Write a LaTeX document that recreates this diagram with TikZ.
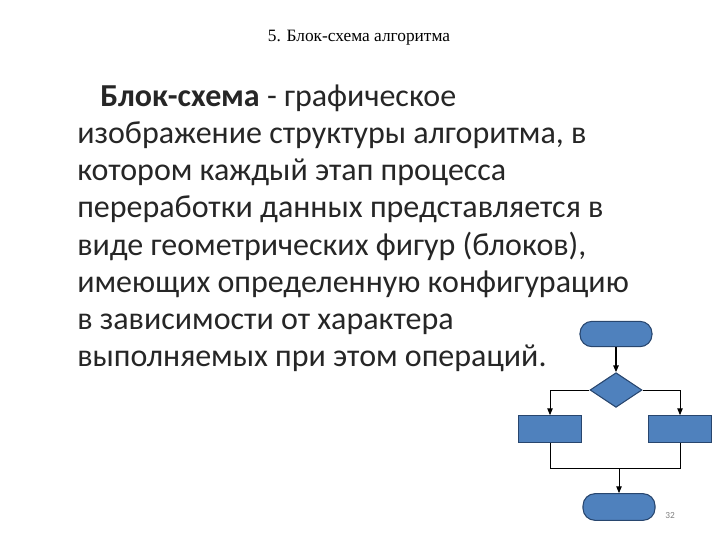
\documentclass[tikz,border=0pt]{standalone}
\usepackage{fontspec}
\setmainfont{Carlito}
\newfontfamily\titlefont{Liberation Serif}
\usetikzlibrary{shapes.geometric,arrows.meta}
\begin{document}
\begin{tikzpicture}[x=0.75pt,y=-0.75pt,
  bfill/.style={fill={rgb,255:red,79;green,129;blue,189},draw={rgb,255:red,40;green,70;blue,110},line width=0.8pt},
  ln/.style={draw=black,line width=0.6pt},
  arr/.style={ln,-{Triangle[length=5pt,width=4pt]}},
  txt/.style={anchor=base west,inner sep=0pt,text=black!85,font=\fontsize{24pt}{28pt}\selectfont}]
\useasboundingbox (0,0) rectangle (720,540);
\node[font=\titlefont\fontsize{13pt}{15pt}\selectfont] (title) at (359,38) {5. Блок-схема алгоритма};
\node[txt] (l1) at (100,106) {\textbf{Блок-схема} - графическое};
\node[txt] (l2) at (77,143) {изображение структуры алгоритма, в};
\node[txt] (l3) at (77,180) {котором каждый этап процесса};
\node[txt] (l4) at (77,217) {переработки данных представляется в};
\node[txt] (l5) at (77,255) {виде геометрических фигур (блоков),};
\node[txt] (l6) at (77,292) {имеющих определенную конфигурацию};
\node[txt] (l7) at (77,329) {в зависимости от характера};
\node[txt] (l8) at (77,366) {выполняемых при этом операций.};
\node[bfill,rounded corners=9pt,minimum width=54pt,minimum height=19pt] (t1) at (616,334) {};
\node[bfill,diamond,aspect=1.5,minimum width=39pt,minimum height=26pt,inner sep=0pt] (d) at (616,390) {};
\node[bfill,minimum width=47pt,minimum height=20pt] (b1) at (550,429) {};
\node[bfill,minimum width=47pt,minimum height=20pt] (b2) at (680,429) {};
\node[bfill,rounded corners=9pt,minimum width=54pt,minimum height=20pt] (t2) at (619,507) {};
\coordinate (j) at (619,468);
\node[font=\fontsize{7pt}{8pt}\selectfont,text=gray] (pg) at (670,515) {32};
\draw[arr,line width=1pt] (t1) -- (d);
\draw[arr] (d.west) -| (b1.north);
\draw[arr] (d.east) -| (b2.north);
\draw[ln] (b1.south) |- (j) -| (b2.south);
\draw[arr] (j) -- (t2);
\end{tikzpicture}
\end{document}
